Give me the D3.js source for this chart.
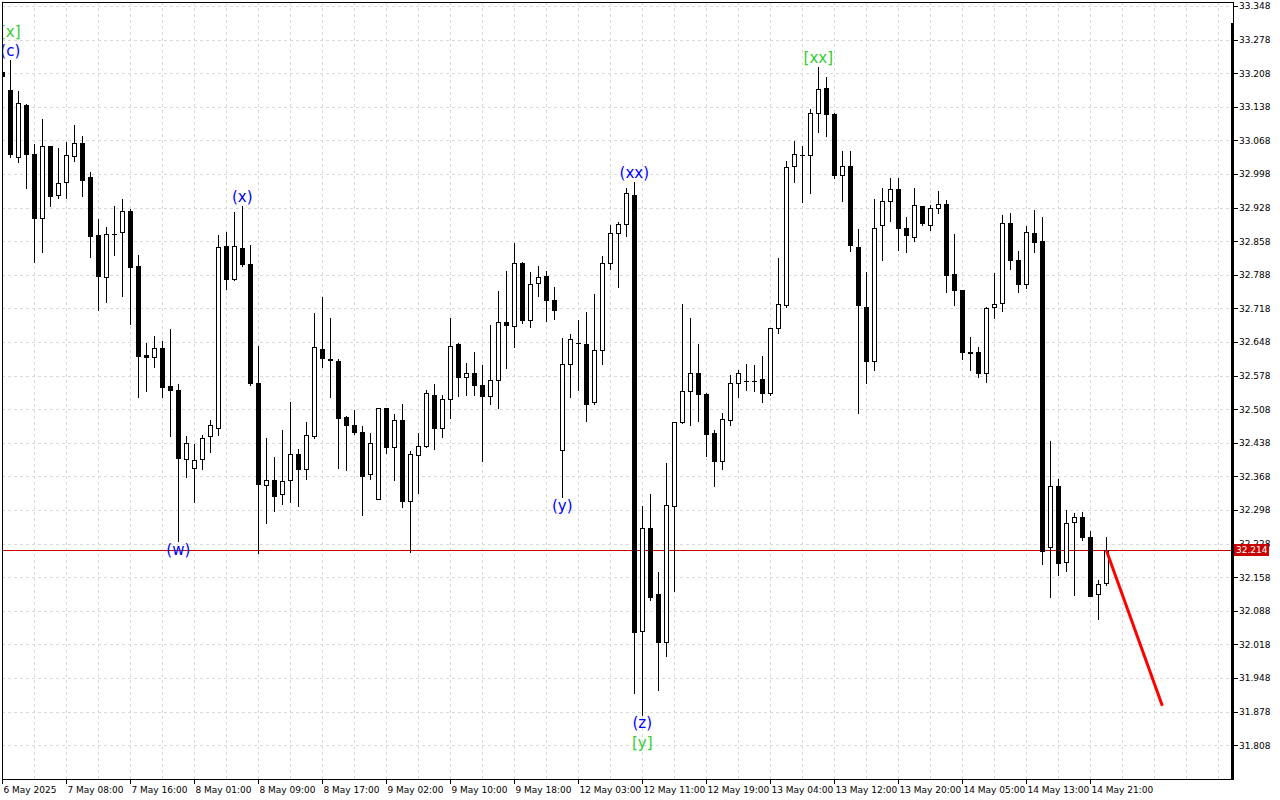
<!DOCTYPE html>
<html><head><meta charset="utf-8">
<script src="https://cdn.jsdelivr.net/npm/d3@7/dist/d3.min.js"></script>
<style>html,body{margin:0;padding:0;background:#fff}svg{display:block}</style>
</head><body>
<svg id="chart" width="1280" height="800"></svg>
<script>
// ---- DATA (hourly bars) ----
const open = [33.211,33.173,33.033,33.142,33.040,32.906,33.056,32.954,32.981,33.036,
33.063,32.992,32.871,32.783,32.873,32.877,32.921,32.806,32.621,32.617,
32.636,32.556,32.548,32.404,32.386,32.404,32.452,32.469,32.848,32.779,
32.844,32.811,32.563,32.350,32.361,32.331,32.361,32.415,32.383,32.452,
32.633,32.613,32.608,32.492,32.475,32.461,32.373,32.321,32.511,32.429,
32.486,32.317,32.413,32.431,32.538,32.469,32.529,32.644,32.575,32.583,
32.558,32.535,32.569,32.690,32.681,32.813,32.694,32.771,32.786,32.736,
32.423,32.602,32.646,32.644,32.523,32.631,32.813,32.875,32.894,32.954,
32.046,32.261,32.123,32.023,32.306,32.481,32.546,32.583,32.540,32.458,
32.400,32.486,32.563,32.567,32.566,32.570,32.542,32.677,32.725,33.015,
33.038,33.038,33.125,33.177,33.123,32.996,33.015,32.846,32.721,32.608,
32.892,32.942,32.967,32.886,32.867,32.931,32.892,32.927,32.936,32.790,
32.756,32.627,32.627,32.583,32.721,32.729,32.896,32.819,32.769,32.875,
32.858,32.221,32.348,32.190,32.273,32.283,32.242,32.123,32.146];
const high = [33.231,33.235,33.171,33.144,33.061,33.113,33.057,33.052,33.065,33.100,
33.077,33.002,32.904,32.888,32.931,32.946,32.925,32.829,32.646,32.661,
32.650,32.675,32.561,32.452,32.436,32.454,32.486,32.871,32.877,32.919,
32.931,32.850,32.640,32.448,32.408,32.465,32.523,32.425,32.481,32.708,
32.742,32.698,32.613,32.493,32.506,32.473,32.458,32.511,32.511,32.498,
32.519,32.421,32.458,32.548,32.561,32.538,32.698,32.646,32.604,32.627,
32.600,32.683,32.754,32.796,32.854,32.814,32.794,32.806,32.796,32.763,
32.656,32.665,32.694,32.711,32.748,32.827,32.892,32.898,32.969,32.981,
32.306,32.331,32.169,32.396,32.482,32.727,32.698,32.643,32.541,32.465,
32.500,32.579,32.590,32.602,32.600,32.619,32.678,32.823,33.025,33.067,
33.056,33.133,33.221,33.200,33.125,33.046,33.046,32.883,32.794,32.946,
32.969,32.990,32.990,32.908,32.969,32.932,32.933,32.963,32.944,32.873,
32.757,32.658,32.638,32.721,32.792,32.913,32.917,32.838,32.890,32.923,
32.908,32.442,32.363,32.298,32.292,32.294,32.254,32.152,32.242];
const low = [33.198,33.033,33.023,32.969,32.815,32.836,32.931,32.948,32.948,33.025,
32.952,32.825,32.715,32.731,32.829,32.744,32.686,32.533,32.546,32.596,
32.533,32.452,32.233,32.367,32.315,32.383,32.419,32.454,32.758,32.778,
32.806,32.558,32.208,32.271,32.296,32.311,32.315,32.306,32.363,32.448,
32.596,32.533,32.386,32.381,32.456,32.288,32.363,32.321,32.417,32.361,
32.304,32.211,32.333,32.430,32.425,32.450,32.490,32.535,32.538,32.538,
32.400,32.519,32.511,32.594,32.638,32.688,32.679,32.744,32.692,32.696,
32.325,32.533,32.548,32.483,32.519,32.602,32.800,32.763,32.869,31.917,
31.871,32.110,31.923,31.994,32.129,32.480,32.475,32.483,32.411,32.348,
32.383,32.475,32.533,32.548,32.546,32.523,32.538,32.667,32.721,32.981,
32.940,32.958,33.086,33.077,32.990,32.942,32.838,32.500,32.563,32.590,
32.819,32.900,32.840,32.836,32.858,32.892,32.881,32.917,32.752,32.725,
32.613,32.590,32.575,32.565,32.698,32.713,32.800,32.752,32.761,32.836,
32.186,32.117,32.163,32.171,32.121,32.235,32.118,32.071,32.142];
const close = [33.202,33.040,33.146,33.040,32.906,33.056,32.952,32.979,33.038,33.063,
32.986,32.869,32.786,32.873,32.872,32.921,32.804,32.619,32.617,32.636,
32.554,32.548,32.406,32.438,32.402,32.448,32.475,32.846,32.779,32.848,
32.811,32.563,32.352,32.361,32.327,32.359,32.415,32.383,32.454,32.638,
32.615,32.610,32.490,32.475,32.461,32.369,32.438,32.511,32.429,32.486,
32.317,32.415,32.431,32.542,32.469,32.529,32.640,32.575,32.583,32.558,
32.535,32.569,32.690,32.683,32.813,32.694,32.769,32.783,32.736,32.715,
32.602,32.654,32.645,32.519,32.631,32.813,32.875,32.894,32.958,32.044,
32.261,32.117,32.023,32.308,32.481,32.546,32.584,32.540,32.457,32.400,
32.488,32.563,32.584,32.566,32.567,32.542,32.677,32.727,33.013,33.040,
33.037,33.125,33.175,33.123,32.996,33.015,32.850,32.725,32.608,32.886,
32.942,32.967,32.886,32.871,32.933,32.896,32.927,32.936,32.788,32.756,
32.627,32.626,32.583,32.719,32.727,32.896,32.819,32.769,32.877,32.856,
32.212,32.348,32.188,32.271,32.283,32.242,32.119,32.144,32.214];

const priceTicks = [33.348,33.278,33.208,33.138,33.068,32.998,32.928,32.858,32.788,32.718,
32.648,32.578,32.508,32.438,32.368,32.298,32.228,32.158,32.088,32.018,31.948,31.878,31.808];

const timeLabelBars = [0,8,16,24,32,40,48,56,64,72,80,88,96,104,112,120,128,136];
const timeLabels = ["6 May 2025","7 May 08:00","7 May 16:00","8 May 01:00","8 May 09:00","8 May 17:00",
"9 May 02:00","9 May 10:00","9 May 18:00","12 May 03:00","12 May 11:00","12 May 19:00",
"13 May 04:00","13 May 12:00","13 May 20:00","14 May 05:00","14 May 13:00","14 May 21:00"];

const waveText  = ["[x]","(c)","(w)","(x)","(y)","(xx)","(z)","[y]","[xx]"];
const waveBar   = [1,1,22,30,70,79,80,80,102];
const waveSide  = ["above","above","below","above","below","above","below","below","above"];
const waveStack = [1,0,0,0,0,0,0,1,0];
const waveDegree= ["major","minor","minor","minor","minor","minor","minor","major","major"];

const lastPrice = 32.214;
const projBars = [138,145];
const projPrices = [32.214,31.890];

// ---- LAYOUT ----
const L = 2, T = 2, R = 1232, B = 779;
const svg = d3.select("#chart");
const x = d3.scaleLinear().domain([0,153.71]).range([2.3,R]);
const y = d3.scaleLinear().domain([31.808,33.348]).range([745.2,6]);

svg.append("rect").attr("width",1280).attr("height",800).attr("fill","#fff");
svg.append("clipPath").attr("id","plot").append("rect")
  .attr("x",L+0.5).attr("y",T).attr("width",R-L).attr("height",B-T);

const grid = svg.append("g").attr("stroke","#dadada").attr("stroke-dasharray","3,3").attr("shape-rendering","crispEdges");
grid.selectAll("line.h").data(priceTicks).join("line").attr("class","h")
  .attr("x1",L).attr("x2",R).attr("y1",d=>Math.round(y(d))+0.5).attr("y2",d=>Math.round(y(d))+0.5);
grid.selectAll("line.v").data(d3.range(4,154,4)).join("line").attr("class","v")
  .attr("y1",T).attr("y2",B).attr("x1",d=>Math.round(x(d))+0.5).attr("x2",d=>Math.round(x(d))+0.5);

const bars = open.map((o,i)=>({i,o,h:high[i],l:low[i],c:close[i]}));
const cg = svg.append("g").attr("clip-path","url(#plot)").attr("shape-rendering","crispEdges");

// horizontal last price line (behind candles)
cg.append("line").attr("x1",L).attr("x2",R)
  .attr("y1",Math.round(y(lastPrice))+0.5).attr("y2",Math.round(y(lastPrice))+0.5)
  .attr("stroke","#d00000").attr("stroke-width",1);

const cand = cg.selectAll("g.c").data(bars).join("g").attr("class","c");
cand.append("rect")
  .attr("x",d=>Math.round(x(d.i))).attr("width",1)
  .attr("y",d=>Math.round(y(d.h)))
  .attr("height",d=>Math.max(1,Math.round(y(d.l))-Math.round(y(d.h))+1))
  .attr("fill","#000");
cand.each(function(d){
  const g = d3.select(this);
  const cx = Math.round(x(d.i));
  const top = Math.round(y(Math.max(d.o,d.c)));
  const bot = Math.round(y(Math.min(d.o,d.c)));
  if (d.c < d.o) {
    g.append("rect").attr("x",cx-2).attr("width",5).attr("y",top)
      .attr("height",Math.max(1,bot-top+1)).attr("fill","#000");
  } else if (bot - top >= 1) {
    g.append("rect").attr("x",cx-1.5).attr("width",4).attr("y",top+0.5)
      .attr("height",bot-top).attr("fill","#fff").attr("stroke","#000").attr("stroke-width",1);
  } else {
    g.append("rect").attr("x",cx-2).attr("width",5).attr("y",top).attr("height",1).attr("fill","#000");
  }
});

// projection line
svg.append("line").attr("clip-path","url(#plot)")
  .attr("x1",x(projBars[0])).attr("y1",y(projPrices[0]))
  .attr("x2",x(projBars[1])).attr("y2",y(projPrices[1]))
  .attr("stroke","#ff0000").attr("stroke-width",3);

// wave labels
svg.append("g").attr("clip-path","url(#plot)").selectAll("text").data(waveText).join("text")
  .attr("x",(t,k)=>x(waveBar[k]))
  .attr("y",(t,k)=>waveSide[k]==="above"
      ? y(high[waveBar[k]]) - 9 - waveStack[k]*19
      : y(low[waveBar[k]]) + 8.5 + waveStack[k]*20)
  .attr("text-anchor","middle").attr("dominant-baseline","central")
  .attr("font-family","DejaVu Sans").attr("font-size",15)
  .attr("fill",(t,k)=>waveDegree[k]==="major" ? "#32cd32" : "#0000ff")
  .text(t=>t);

// frame
const fr = svg.append("g").attr("shape-rendering","crispEdges").attr("stroke","#000");
fr.append("line").attr("x1",L+0.5).attr("x2",L+0.5).attr("y1",T).attr("y2",B+1);
fr.append("line").attr("x1",L).attr("x2",R+2).attr("y1",T+0.5).attr("y2",T+0.5);
fr.append("line").attr("x1",L).attr("x2",R+2).attr("y1",B+0.5).attr("y2",B+0.5);
fr.append("line").attr("x1",R+1.5).attr("x2",R+1.5).attr("y1",T).attr("y2",24);
svg.append("rect").attr("x",R-1).attr("y",23).attr("width",3).attr("height",B-23+1).attr("fill","#000");

// price axis
const yAxis = d3.axisRight(y).tickValues(priceTicks).tickSize(4).tickPadding(1)
  .tickFormat(d3.format(".3f"));
const ya = svg.append("g").attr("transform",`translate(${R+2},0)`).call(yAxis);
ya.select(".domain").remove();
ya.selectAll(".tick line").attr("stroke","#000").attr("shape-rendering","crispEdges");
ya.selectAll(".tick text").attr("font-family","DejaVu Sans").attr("font-size",9).attr("fill","#000");

// last price tag
svg.append("rect").attr("x",R+2).attr("y",Math.round(y(lastPrice))-6).attr("width",35).attr("height",12).attr("fill","#c80000");
svg.append("text").attr("x",R+4).attr("y",y(lastPrice)).attr("dy","0.35em")
  .attr("font-family","DejaVu Sans").attr("font-size",9).attr("fill","#fff").text(d3.format(".3f")(lastPrice));

// time axis
const xAxis = d3.axisBottom(x).tickValues(timeLabelBars).tickSize(5).tickPadding(0)
  .tickFormat((d,k)=>timeLabels[k]);
const xa = svg.append("g").attr("transform",`translate(0.5,${B})`).call(xAxis);
xa.select(".domain").remove();
xa.selectAll(".tick").attr("transform",d=>`translate(${Math.round(x(d))},0)`);
xa.selectAll(".tick line").attr("stroke","#000").attr("shape-rendering","crispEdges");
xa.selectAll(".tick text").attr("text-anchor","start").attr("x",1).attr("y",14).attr("dy",0)
  .attr("font-family","DejaVu Sans").attr("font-size",9).attr("fill","#000");
</script>
</body></html>
